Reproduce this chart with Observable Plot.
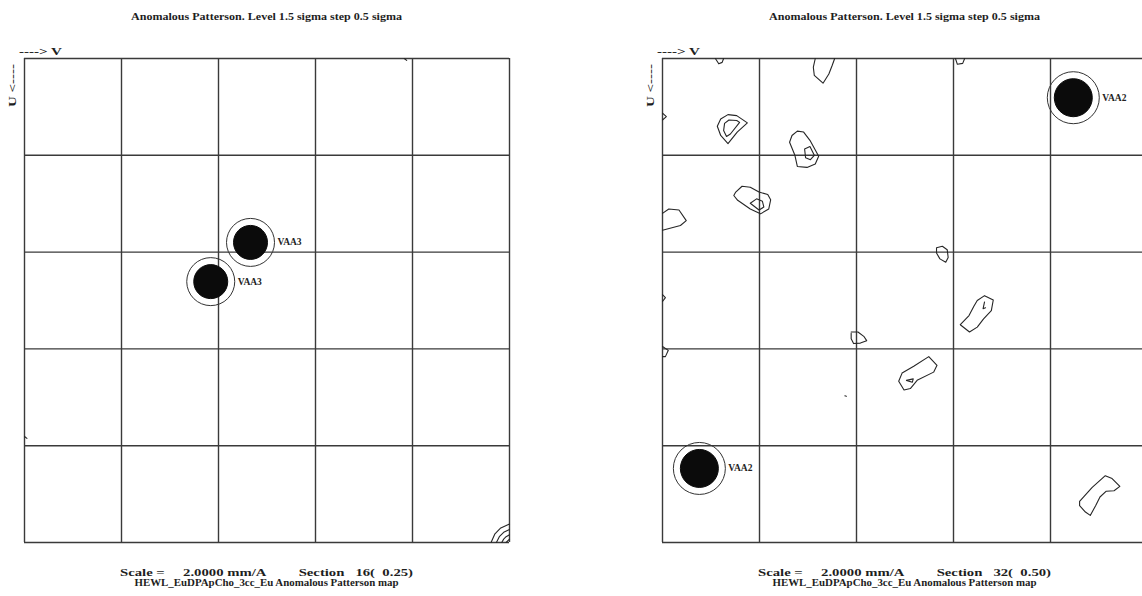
<!DOCTYPE html>
<html>
<head>
<meta charset="utf-8">
<script src="https://cdn.jsdelivr.net/npm/d3@7"></script>
<script src="https://cdn.jsdelivr.net/npm/@observablehq/plot@0.6"></script>
<style>
  html, body { margin: 0; padding: 0; background: white; overflow: hidden; }
  #wrap { position: relative; width: 1142px; height: 596px; overflow: hidden; }
  .panel { position: absolute; top: 0; }
  #left { left: 0; width: 571px; }
  #right { left: 571px; width: 576px; }
  #ov { position: absolute; left: 0; top: 0; pointer-events: none; }
</style>
</head>
<body>
<div id="wrap">
  <div id="left" class="panel"></div>
  <div id="right" class="panel"></div>
  <svg id="ov" width="1142" height="596"></svg>
</div>
<script>
// ---- data (map coordinates: v across, u down, 0..100 of the section) ----
const gridTicks = [0, 20, 40, 60, 80, 100];

const titleText = "Anomalous Patterson. Level 1.5 sigma step 0.5 sigma";
const mapName = "HEWL_EuDPApCho_3cc_Eu Anomalous Patterson map";
const scaleLines = [
  "Scale =     2.0000 mm/A         Section   16(  0.25)",
  "Scale =     2.0000 mm/A         Section   32(  0.50)"
];
const axisV = "----> V";
const axisU = "U <----";

const leftPeaks = [
  {v: 46.6, u: 38.0, label: "VAA3"},
  {v: 38.4, u: 46.1, label: "VAA3"}
];
const rightPeaks = [
  {v: 84.7, u: 8.1, label: "VAA2"},
  {v: 7.6, u: 84.7, label: "VAA2"}
];

const leftContours = [
  [[96.2, 100], [97.0, 98.2], [98.2, 97.0], [100, 96.2]],
  [[97.3, 100], [97.9, 98.8], [98.8, 97.9], [100, 97.3]],
  [[98.4, 100], [98.8, 99.3], [99.3, 98.8], [100, 98.4]],
  [[99.3, 100], [100, 99.3]],
  [[78.3, 0], [78.8, 0.4]],
  [[0, 78.1], [0.5, 78.5]]
];

const rightContours = [
  [[10.9, 0], [11.6, 1.1], [12.3, 0.8], [12.6, 0]],
  [[31.5, 0], [31.1, 1.8], [31.3, 3.5], [33.1, 5.1], [34.3, 3.2], [35.0, 1.4], [35.5, 0]],
  [[0, 11.3], [0.8, 12.0], [0, 12.7]],
  [[12.0, 12.5], [13.5, 11.6], [15.3, 11.8], [17.5, 13.3], [15.4, 15.2], [13.5, 17.6], [12.0, 15.9], [11.3, 14.0], [12.0, 12.5]],
  [[12.8, 13.4], [13.7, 12.7], [15.3, 12.8], [15.9, 13.2], [14.0, 15.6], [13.2, 16.1], [12.6, 14.9], [12.8, 13.4]],
  [[26.7, 15.9], [27.8, 15.0], [29.1, 15.2], [30.4, 16.9], [31.5, 18.9], [32.2, 20.2], [31.5, 21.8], [29.8, 22.5], [27.8, 22.3], [27.3, 20.0], [26.2, 17.3], [26.7, 15.9]],
  [[29.3, 18.7], [30.4, 18.2], [31.3, 20.0], [30.5, 20.9], [29.5, 20.5], [29.3, 18.7]],
  [[15.1, 27.6], [16.4, 26.4], [18.1, 26.6], [19.9, 27.6], [21.7, 28.1], [22.3, 29.2], [21.9, 31.1], [20.2, 32.1], [18.1, 31.1], [15.5, 29.3], [14.7, 28.3], [15.1, 27.6]],
  [[18.1, 29.9], [19.4, 29.0], [20.6, 29.5], [20.9, 30.7], [19.9, 31.3], [18.1, 29.9]],
  [[0, 32.0], [1.3, 31.1], [3.4, 31.3], [4.9, 33.5], [3.7, 34.5], [0, 35.5]],
  [[56.5, 39.1], [57.7, 38.8], [58.7, 39.5], [58.9, 41.1], [58.4, 42.1], [57.2, 41.4], [56.5, 40.2], [56.5, 39.1]],
  [[64.9, 50.0], [66.4, 49.0], [68.2, 49.9], [67.8, 52.1], [66.2, 53.8], [64.9, 55.5], [63.3, 56.5], [61.4, 55.0], [63.2, 53.1], [64.2, 51.2], [64.9, 50.0]],
  [[66.4, 50.3], [66.1, 51.7], [66.6, 51.5]],
  [[38.9, 56.5], [40.3, 56.5], [41.5, 57.4], [42.1, 58.3], [40.8, 58.8], [39.4, 58.9], [38.9, 57.9], [38.9, 56.8]],
  [[49.4, 65.0], [51.8, 63.6], [54.9, 61.6], [56.6, 63.4], [55.9, 64.8], [52.5, 66.5], [51.1, 68.2], [49.8, 68.5], [48.7, 66.7], [49.4, 65.0]],
  [[50.3, 66.5], [51.7, 66.2], [51.5, 66.9], [50.3, 66.5]],
  [[86.0, 91.5], [88.6, 88.6], [91.3, 86.2], [92.7, 86.8], [94.3, 88.4], [93.1, 89.3], [91.5, 89.4], [90.2, 90.6], [89.3, 92.4], [88.2, 94.4], [87.2, 93.7], [86.0, 92.4], [86.0, 91.5]],
  [[60.4, 0], [60.8, 1.2], [61.9, 1.0], [62.3, 0]],
  [[0, 48.8], [0.6, 49.4], [0, 50.2]],
  [[0, 59.5], [1.2, 60.3], [0.6, 61.6], [0, 61.6]],
  [[37.6, 69.7], [37.9, 69.8]]
];

// ---- drawing ----
const FONT = "Liberation Serif";

function panel({peaks, contours, dotR, ringR, width, ml, mr}) {
  const pts = contours.flatMap((s, i) => s.map(([v, u]) => ({v, u, id: i})));
  return Plot.plot({
    width, height: 596,
    marginLeft: ml, marginRight: mr, marginTop: 58, marginBottom: 54,
    x: {domain: [0, 100], axis: null},
    y: {domain: [0, 100], reverse: true, axis: null},
    style: {background: "white", maxWidth: "none", overflow: "visible"},
    marks: [
      Plot.ruleX(gridTicks, {stroke: "#3a3a3a", strokeWidth: 1.4}),
      Plot.ruleY(gridTicks, {stroke: "#3a3a3a", strokeWidth: 1.4}),
      Plot.line(pts, {x: "v", y: "u", z: "id", stroke: "#262626", strokeWidth: 1.1, curve: "linear"}),
      Plot.dot(peaks, {x: "v", y: "u", r: ringR, stroke: "#333", strokeWidth: 1, fill: "none"}),
      Plot.dot(peaks, {x: "v", y: "u", r: dotR, fill: "#0b0b0b", stroke: "#0b0b0b", strokeWidth: 1}),
      Plot.text(peaks, {x: "v", y: "u", text: "label", dx: ringR + 3, textAnchor: "start",
        fontSize: 9.5, fontWeight: "bold", fontFamily: FONT, fill: "#222"})
    ]
  });
}

document.getElementById("left").append(panel({
  peaks: leftPeaks, contours: leftContours, dotR: 17, ringR: 24, width: 571, ml: 24, mr: 62
}));
document.getElementById("right").append(panel({
  peaks: rightPeaks, contours: rightContours, dotR: 19, ringR: 26, width: 576, ml: 91, mr: 0
}));

// ---- text annotations ----
const ov = d3.select("#ov");
const panels = [
  {cx: 266.5, x0: 24, scale: scaleLines[0]},
  {cx: 904.5, x0: 662, scale: scaleLines[1]}
];
function txt(x, y, s, len, anchor) {
  return ov.append("text")
    .attr("x", x).attr("y", y)
    .attr("text-anchor", anchor || "middle")
    .attr("textLength", len).attr("lengthAdjust", "spacingAndGlyphs")
    .style("white-space", "pre")
    .attr("font-family", FONT).attr("font-weight", "bold")
    .attr("font-size", 11).attr("fill", "#1e1e1e")
    .text(s);
}
for (const p of panels) {
  txt(p.cx, 20, titleText, 271);
  txt(p.cx, 575.5, p.scale, 293);
  txt(p.cx, 586, mapName, 264);
  txt(p.x0 - 5, 55, axisV, 43, "start");
  txt(0, 0, axisU, 43, "start")
    .attr("transform", `translate(${p.x0 - 8},${107}) rotate(-90)`);
}
</script>
</body>
</html>
